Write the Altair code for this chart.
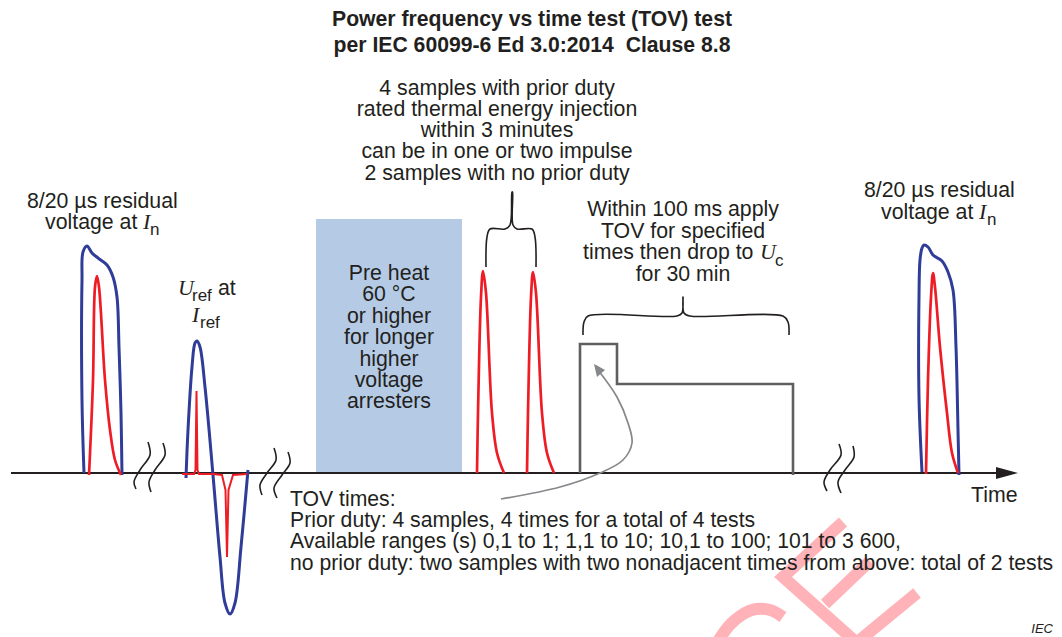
import altair as alt
import pandas as pd

W, H = 1046, 629
X = alt.Scale(domain=[8, 1054], nice=False, zero=False)
Y = alt.Scale(domain=[637, 8], nice=False, zero=False)
INK, GREY, BLUE, RED = "#231f20", "#5d5f61", "#2f3d98", "#ee1c25"

# --- curves (x list, y list) ---
blue1_x = [84, 82, 82, 83, 87, 92, 98, 107, 113, 117, 119, 121, 122]
blue1_y = [473, 400, 280, 252, 246, 253, 258, 265, 277, 297, 347, 413, 475]
red1_x = [89, 93, 95, 97, 99, 105, 110, 115, 121]
red1_y = [475, 380, 287, 276, 287, 380, 430, 460, 475]
blue2_x = [186, 188, 192, 195, 197, 200, 205, 213, 220, 225, 230, 235, 241, 248]
blue2_y = [478, 430, 367, 343, 341, 347, 387, 475, 557, 603, 614, 603, 547, 470]
red2_x = [182, 194, 195.5, 196.5, 197.5, 199, 213, 222, 225.5, 227, 228.5, 233, 247]
red2_y = [474, 474, 470, 391, 470, 474, 474, 475, 490, 557, 490, 475, 474]
pulse1_x = [477, 478, 481, 483, 486, 492, 497, 504]
pulse1_y = [473, 413, 297, 271, 293, 413, 453, 473]
pulse2_x = [527, 528, 531, 533, 536, 542, 547, 554]
pulse2_y = [473, 413, 297, 272, 293, 413, 453, 473]
blue3_x = [922, 919, 919, 920, 922, 924, 928, 933, 942, 948, 953, 956, 958, 959]
blue3_y = [472, 397, 297, 260, 248, 245, 247, 255, 261, 272, 290, 347, 430, 475]
red3_x = [926, 928, 931, 933, 935, 940, 947, 952, 958]
red3_y = [474, 380, 297, 273, 287, 347, 413, 453, 473]

axis_x = [11, 1000]
axis_y = [473, 473]
tov_x = [580, 580, 617, 617, 793, 793]
tov_y = [473, 344, 344, 384, 384, 475]

breaks = [
    ([148, 150, 140, 134, 136], [442, 455, 470, 482, 489]),
    ([163, 165, 155, 149, 151], [443, 455, 470, 482, 492]),
    ([274, 276, 267, 260, 262], [448, 460, 473, 485, 495]),
    ([288, 290, 282, 274, 277], [452, 463, 475, 488, 498]),
    ([839, 841, 830, 824, 827], [444, 455, 470, 482, 491]),
    ([853, 854, 845, 838, 841], [446, 457, 470, 482, 493]),
]
brace1_x = [486, 487, 490, 505, 510, 512, 512.5, 513, 517, 532, 535, 536]
brace1_y = [267, 237, 229, 229, 225, 192, 192, 225, 229, 229, 237, 267]
brace2_x = [583, 584, 588, 677, 682, 683, 684, 690, 783, 788, 789]
brace2_y = [335, 322, 316, 316, 313, 297, 313, 316, 316, 322, 335]
curve_x = [501, 560, 600, 623, 632, 628, 617, 598]
curve_y = [499, 487, 473, 460, 443, 423, 397, 370]

heat_box = {"x": [316], "x2": [462], "y": [219], "y2": [472]}

# watermark strokes
wm_lines = [
    ([843, 783, 885], [522, 577, 668]),
    ([825, 870], [604, 561]),
    ([860, 917], [640, 593]),
]
wm_arc_x = [783, 770, 752, 735, 722, 712]
wm_arc_y = [617, 610, 610, 620, 635, 655]

# --- text ---
title_lines = ["Power frequency vs time test (TOV) test", "per IEC 60099-6 Ed 3.0:2014\u00a0 Clause 8.8"]
title_y = [26, 52]
samples_lines = ["4 samples with prior duty", "rated thermal energy injection", "within 3 minutes",
                 "can be in one or two impulse", "2 samples with no prior duty"]
samples_y = [95, 116, 137, 158, 180]
heat_lines = ["Pre heat", "60 °C", "or higher", "for longer", "higher", "voltage", "arresters"]
heat_y = [280, 301, 323, 344, 366, 387, 408]
within_lines = ["Within 100 ms apply", "TOV for specified", "for 30 min"]
within_y = [216, 238, 281]
tov_lines = ["TOV times:", "Prior duty: 4 samples, 4 times for a total of 4 tests",
             "Available ranges (s) 0,1 to 1; 1,1 to 10; 10,1 to 100; 101 to 3 600,",
             "no prior duty: two samples with two nonadjacent times from above: total of 2 tests"]
tov_text_y = [506, 527, 548, 570]
left_plain = [("8/20 µs residual", 27, 208), ("voltage at", 45, 229), ("8/20 µs residual", 864, 197),
              ("voltage at", 881, 219), ("at", 218, 295), ("times then drop to", 583, 259), ("Time", 971, 502)]
math_letters = [("I", 143, 229), ("I", 979, 219), ("U", 178, 295), ("I", 192, 322), ("U", 760, 259)]
subs = [("n", 150, 235), ("n", 987, 225), ("ref", 192, 301), ("ref", 200, 328), ("c", 775, 266)]
iec = [("IEC", 1053, 633)]


def curve(xs, ys, color, width, interp="catmull-rom", **kw):
    d = pd.DataFrame({"x": xs, "y": ys, "i": range(len(xs))})
    return alt.Chart(d).mark_line(color=color, strokeWidth=width, interpolate=interp, **kw).encode(
        x=alt.X("x:Q", scale=X, axis=None), y=alt.Y("y:Q", scale=Y, axis=None), order="i:Q")


def texts(rows, size, align="left", font="Liberation Sans", **kw):
    d = pd.DataFrame(rows, columns=["t", "x", "y"])
    return alt.Chart(d).mark_text(font=font, fontSize=size, align=align, baseline="alphabetic",
                                  color=INK, **kw).encode(
        x=alt.X("x:Q", scale=X, axis=None), y=alt.Y("y:Q", scale=Y, axis=None), text="t:N")


def centered(lines, ys, cx):
    return [(t, cx, y) for t, y in zip(lines, ys)]


layers = []
for bx, by in wm_lines:
    layers.append(curve(bx, by, "#ffb3b8", 12, "linear", clip=True, strokeCap="butt"))
layers.append(curve(wm_arc_x, wm_arc_y, "#ffb3b8", 12, clip=True))
layers.append(alt.Chart(pd.DataFrame(heat_box)).mark_rect(color="#b5cbe5").encode(
    x=alt.X("x:Q", scale=X, axis=None), x2="x2:Q", y=alt.Y("y:Q", scale=Y, axis=None), y2="y2:Q"))
layers.append(curve(axis_x, axis_y, INK, 1.8, "linear"))
layers.append(curve(tov_x, tov_y, GREY, 2.6, "linear", strokeJoin="miter"))
layers.append(curve(curve_x, curve_y, "#85878a", 1.7))
head = pd.DataFrame({"x": [594, 597, 605], "y": [364, 365.6, 370], "y2": [364, 377, 370]})
layers.append(alt.Chart(head).mark_area(color="#85878a").encode(
    x=alt.X("x:Q", scale=X, axis=None), y=alt.Y("y:Q", scale=Y, axis=None), y2="y2:Q"))
tip = pd.DataFrame({"x": [996, 1018], "y": [467, 473], "y2": [479, 473]})
layers.append(alt.Chart(tip).mark_area(color=INK).encode(
    x=alt.X("x:Q", scale=X, axis=None), y=alt.Y("y:Q", scale=Y, axis=None), y2="y2:Q"))
for bx, by in breaks:
    layers.append(curve(bx, by, INK, 1.6))
layers.append(curve(brace1_x, brace1_y, INK, 1.6))
layers.append(curve(brace2_x, brace2_y, INK, 1.6))
for bx, by in [(blue1_x, blue1_y), (blue2_x, blue2_y), (blue3_x, blue3_y)]:
    layers.append(curve(bx, by, BLUE, 3))
layers.append(curve(red1_x, red1_y, RED, 2.7))
layers.append(curve(red2_x, red2_y, RED, 2, "linear"))
layers.append(curve(pulse1_x, pulse1_y, RED, 2.7))
layers.append(curve(pulse2_x, pulse2_y, RED, 2.7))
layers.append(curve(red3_x, red3_y, RED, 2.7))

layers.append(texts(centered(title_lines, title_y, 532), 21.2, "center", fontWeight="bold"))
layers.append(texts(centered(samples_lines, samples_y, 497), 21.3, "center"))
layers.append(texts(centered(heat_lines, heat_y, 389), 21.3, "center"))
layers.append(texts(centered(within_lines, within_y, 683), 21.3, "center"))
layers.append(texts([(t, 290, y) for t, y in zip(tov_lines, tov_text_y)], 21.2))
layers.append(texts(left_plain, 21.3))
layers.append(texts(math_letters, 22, font="Liberation Serif", fontStyle="italic"))
layers.append(texts(subs, 17))
layers.append(texts(iec, 13, "right", fontStyle="italic"))

chart = alt.layer(*layers).properties(
    width=W, height=H, padding=0, autosize=alt.AutoSizeParams(type="none"), background="white"
).configure_view(stroke=None)
chart.save("out.html", embed_options={"renderer": "svg", "actions": False})
